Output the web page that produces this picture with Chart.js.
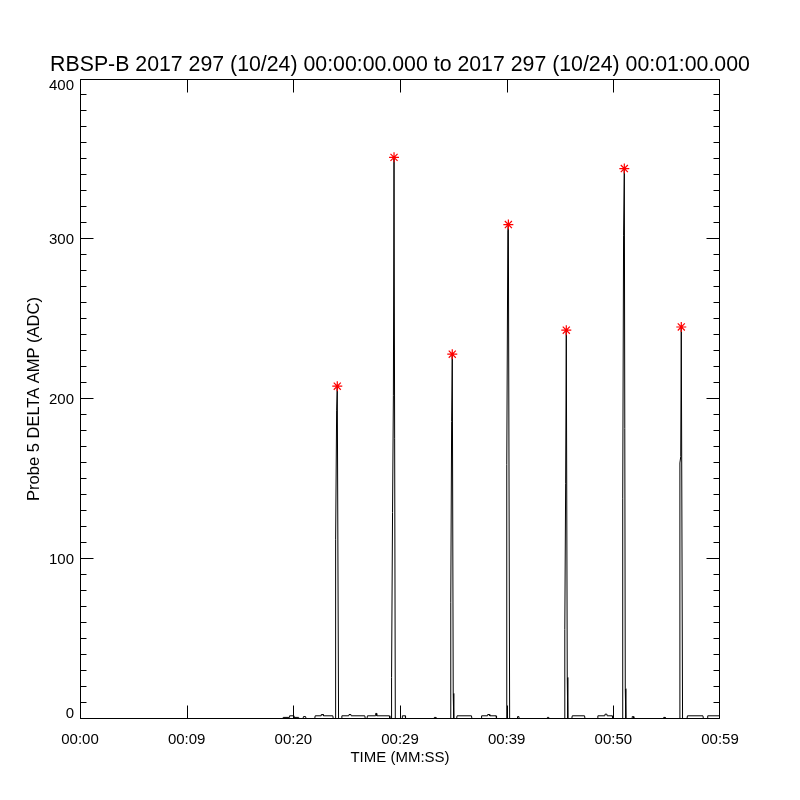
<!DOCTYPE html>
<html><head><meta charset="utf-8">
<script src="https://cdn.jsdelivr.net/npm/chart.js@4/dist/chart.umd.min.js"></script>
<style>html,body{margin:0;padding:0;background:#fff}#wrap{width:800px;height:800px}</style>
</head><body><div id="wrap"><canvas id="c" width="800" height="800"></canvas></div>
<script>
const titleText = "RBSP-B 2017 297 (10/24) 00:00:00.000 to 2017 297 (10/24) 00:01:00.000";
const xAxisTitle = "TIME (MM:SS)";
const yAxisTitle = "Probe 5 DELTA AMP (ADC)";
const xTickValues = [0, 10, 20, 30, 40, 50, 60];
const xTickLabels = ["00:00", "00:09", "00:20", "00:29", "00:39", "00:50", "00:59"];
const yTickValues = [0, 100, 200, 300, 400];
const yTickLabels = ["0", "100", "200", "300", "400"];

// waveform samples (seconds, ADC)
const sampleTimes = [
  0, 19.00, 19.05, 19.60, 19.65, 20.00, 20.05, 20.50, 20.55, 20.90, 20.95, 21.15, 21.20,
  22.00, 22.05, 22.60, 22.62, 22.80, 22.82, 23.70, 23.75,
  23.94, 23.95, 23.98, 24.06, 24.12, 24.24,
  24.50, 24.55, 25.20, 25.22, 25.40, 25.42, 26.70, 26.75, 26.90, 26.95, 27.70, 27.72, 27.80, 27.82, 29.00, 29.05,
  29.20, 29.21, 29.30, 29.38, 29.44, 29.56,
  30.20, 30.22, 30.50, 30.52, 33.20, 33.22, 33.35, 33.37,
  34.74, 34.76, 34.84, 34.90, 34.99, 35.03, 35.05,
  35.30, 35.35, 36.70, 36.75, 37.60, 37.65, 38.20, 38.22, 38.40, 38.42, 39.00, 39.05,
  39.98, 39.99, 40.03, 40.11, 40.16, 40.28,
  41.00, 41.02, 41.15, 41.17, 43.80, 43.82, 43.95, 43.97,
  45.43, 45.45, 45.53, 45.59, 45.68, 45.72, 45.74,
  46.10, 46.15, 47.30, 47.35, 48.50, 48.55, 49.20, 49.22, 49.40, 49.42, 49.90, 49.95,
  50.86, 50.88, 50.96, 51.03, 51.12, 51.16, 51.18,
  51.75, 51.77, 51.90, 51.92, 54.70, 54.72, 54.85, 54.87,
  56.22, 56.24, 56.32, 56.37, 56.49,
  56.90, 56.95, 58.40, 58.45, 58.80, 58.85, 60.00
];
const sampleAmps = [
  0, 0, 1, 1, 2, 2, 1, 1, 0, 0, 1.5, 1.5, 0,
  0, 2, 2, 2.8, 2.8, 2, 2, 0,
  0, 4, 112, 193, 208, 0,
  0, 2, 2, 2.8, 2.8, 2, 2, 0, 0, 2, 2, 3.5, 3.5, 2, 2, 0,
  0, 26, 129, 202, 351, 0,
  0, 2, 2, 0, 0, 1, 1, 0,
  0, 73, 186, 228, 16, 16, 0,
  0, 2, 2, 0, 0, 2, 2, 2.8, 2.8, 2, 2, 0,
  0, 15, 159, 305, 309, 0,
  0, 1.5, 1.5, 0, 0, 1, 1, 0,
  0, 56, 147, 243, 26, 26, 0,
  0, 2, 2, 0, 0, 2, 2, 3, 3, 2, 2, 0,
  0, 138, 302, 344, 19, 19, 0,
  0, 1.5, 1.5, 0, 0, 1, 1, 0,
  0, 160, 164, 245, 0,
  0, 2, 2, 0, 0, 2, 2
];
const peakTimes = [24.12, 29.44, 34.90, 40.16, 45.59, 51.03, 56.37];
const peakAmps = [208, 351, 228, 309, 243, 344, 245];

const FONT = "'Liberation Sans', Arial, sans-serif";

const idlAxes = {
  id: 'idlAxes',
  afterDraw(chart) {
    const {ctx, chartArea: a, scales: {x, y}} = chart;
    ctx.save();
    ctx.strokeStyle = '#000';
    ctx.lineWidth = 1;
    ctx.beginPath();
    const L = Math.round(a.left) + 0.5, R = Math.round(a.right) - 0.5;
    const T = Math.round(a.top) + 0.5, B = Math.round(a.bottom) - 0.5;
    ctx.rect(L, T, R - L, B - T);
    for (let v = 0; v <= 400; v += 10) {
      const py = Math.min(B, Math.max(T, Math.round(y.getPixelForValue(v)) - 0.5));
      const len = (v % 100 === 0) ? 13 : 6;
      ctx.moveTo(L, py); ctx.lineTo(L + len, py);
      ctx.moveTo(R, py); ctx.lineTo(R - len, py);
    }
    xTickValues.forEach(v => {
      const px = Math.min(R, Math.max(L, Math.round(x.getPixelForValue(v)) + 0.5));
      ctx.moveTo(px, B); ctx.lineTo(px, B - 13);
      ctx.moveTo(px, T); ctx.lineTo(px, T + 13);
    });
    ctx.stroke();
    // y tick labels, IDL-style (end labels kept inside the axis span)
    ctx.fillStyle = '#000';
    ctx.font = "15px " + FONT;
    ctx.textAlign = 'right';
    ctx.textBaseline = 'middle';
    yTickValues.forEach((v, i) => {
      let py = y.getPixelForValue(v) + 1;
      if (v === y.min) py -= 6;
      if (v === y.max) py += 6;
      ctx.fillText(yTickLabels[i], a.left - 6, py);
    });
    ctx.restore();
  }
};

new Chart(document.getElementById('c'), {
  type: 'scatter',
  data: {
    datasets: [
      {
        data: sampleTimes.map((t, i) => ({x: t, y: sampleAmps[i]})),
        showLine: true, borderColor: '#000', borderWidth: 1,
        pointRadius: 0, tension: 0, fill: false, order: 2
      },
      {
        data: peakTimes.map((t, i) => ({x: t, y: peakAmps[i]})),
        showLine: false, pointStyle: 'star', pointRadius: 5,
        borderColor: '#ff0000', backgroundColor: '#ff0000', borderWidth: 1.2, order: 1
      }
    ]
  },
  options: {
    responsive: false, animation: false, devicePixelRatio: 1,
    layout: {padding: 0},
    plugins: {
      legend: {display: false}, tooltip: {enabled: false},
      title: {
        display: true, text: titleText, color: '#000',
        font: {family: FONT, size: 21.3, weight: 'normal', lineHeight: 1.2},
        padding: {top: 52, bottom: 1.4}
      }
    },
    scales: {
      x: {
        type: 'linear', min: 0, max: 60,
        afterFit(s) { s.height = 81; },
        afterBuildTicks(s) { s.ticks = xTickValues.map(v => ({value: v})); },
        grid: {display: false, drawTicks: false}, border: {display: false},
        ticks: {
          color: '#000', padding: 12, maxRotation: 0, autoSkip: false,
          font: {family: FONT, size: 15},
          callback: (v) => { const i = xTickValues.indexOf(v); return i >= 0 ? xTickLabels[i] : ''; }
        },
        title: {display: true, text: xAxisTitle, color: '#000',
          font: {family: FONT, size: 15}, padding: {top: 0, bottom: 33}}
      },
      y: {
        type: 'linear', min: 0, max: 400, position: 'left',
        afterFit(s) { s.width = 80; },
        afterBuildTicks(s) { s.ticks = yTickValues.map(v => ({value: v})); },
        grid: {display: false, drawTicks: false}, border: {display: false},
        ticks: {display: false},
        title: {display: true, text: yAxisTitle, color: '#000',
          font: {family: FONT, size: 16.5}, padding: {top: 25, bottom: 0}}
      },
      yRight: {
        type: 'linear', position: 'right', display: true,
        afterFit(s) { s.width = 80; },
        grid: {display: false, drawTicks: false}, border: {display: false},
        ticks: {display: false}
      }
    }
  },
  plugins: [idlAxes]
});
</script>
</body></html>
